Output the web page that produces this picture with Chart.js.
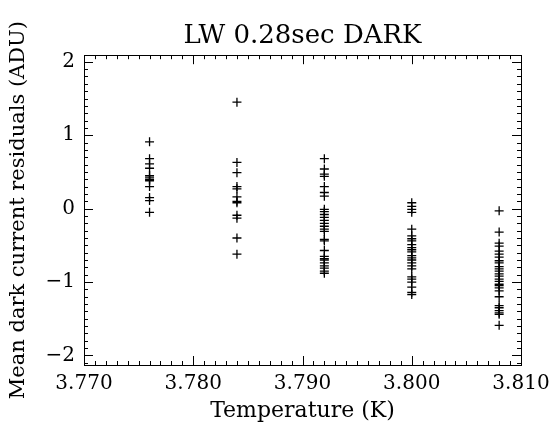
<!DOCTYPE html>
<html>
<head>
<meta charset="utf-8">
<script src="https://cdn.jsdelivr.net/npm/chart.js@4.4.0/dist/chart.umd.min.js"></script>
<style>
  html, body { margin: 0; padding: 0; background: #fff; }
  #wrap { width: 552px; height: 425px; }
</style>
</head>
<body>
<div id="wrap"><canvas id="dark-chart"></canvas></div>
<script>
/*=======================================
 data
========================================*/
var temps = [3.776, 3.784, 3.792, 3.800, 3.808];

var resid3776 = [0.91, 0.68, 0.61, 0.55, 0.45, 0.43, 0.40, 0.38, 0.30, 0.15, 0.11, -0.05];
var resid3784 = [1.45, 0.63, 0.49, 0.30, 0.27, 0.16, 0.10, 0.08, -0.09, -0.13, -0.40, -0.62];
var resid3792 = [0.68, 0.54, 0.47, 0.44, 0.30, 0.22, 0.17, -0.01, -0.04, -0.08, -0.12, -0.16,
                 -0.20, -0.24, -0.28, -0.31, -0.42, -0.44, -0.57, -0.65, -0.68, -0.70, -0.74,
                 -0.78, -0.81, -0.85, -0.88];
var resid3800 = [0.08, 0.03, -0.01, -0.05, -0.28, -0.37, -0.41, -0.44, -0.49, -0.53, -0.56, -0.59,
                 -0.64, -0.67, -0.70, -0.74, -0.78, -0.82, -0.93, -0.96, -1.00, -1.07, -1.14, -1.17];
var resid3808 = [-0.03, -0.32, -0.47, -0.51, -0.58, -0.62, -0.66, -0.71, -0.74, -0.79, -0.82, -0.85,
                 -0.89, -0.92, -0.96, -0.99, -1.03, -1.05, -1.08, -1.12, -1.20, -1.32, -1.35,
                 -1.39, -1.42, -1.44, -1.59];

var xTicks = [3.770, 3.780, 3.790, 3.800, 3.810];
var yTicks = [-2, -1, 0, 1, 2];

// one flat list of points, each group sits at its own temperature
var groups = [resid3776, resid3784, resid3792, resid3800, resid3808];
var points = [];
groups.forEach(function (g, i) {
   g.forEach(function (v) { points.push({ x: temps[i], y: v }); });
});

var serif = "'DejaVu Serif', serif";

/*=======================================
 IDL style inward ticks on all four sides
========================================*/
const idlTicks = {
   id: 'idlTicks',
   afterDraw(chart) {
      const c = chart.ctx;
      const a = chart.chartArea;
      const xs = chart.scales.x;
      const ys = chart.scales.y;
      c.save();
      c.strokeStyle = '#000';
      c.lineWidth = 1;
      c.beginPath();
      // x: minor every 0.001, major every 0.01
      for (let i = 0; i <= 40; i++) {
         const px = Math.round(xs.getPixelForValue(3.770 + i * 0.001)) + 0.5;
         const len = (i % 10 === 0) ? 9 : 4;
         c.moveTo(px, a.bottom); c.lineTo(px, a.bottom - len);
         c.moveTo(px, a.top); c.lineTo(px, a.top + len);
      }
      // y: minor every 0.1, major every 1
      for (let j = -21; j <= 20; j++) {
         const v = j / 10;
         if (v < ys.min || v > ys.max) continue;
         const py = Math.round(ys.getPixelForValue(v)) + 0.5;
         const len = (j % 10 === 0) ? 9 : 4;
         c.moveTo(a.left, py); c.lineTo(a.left + len, py);
         c.moveTo(a.right, py); c.lineTo(a.right - len, py);
      }
      c.stroke();
      c.strokeRect(Math.round(a.left) + 0.5, Math.round(a.top) + 0.5,
                   Math.round(a.right - a.left), Math.round(a.bottom - a.top));
      c.restore();
   }
};

var ctx = document.getElementById('dark-chart');

var darkChart = new Chart(ctx, {
   type: 'scatter',
   data: {
      datasets: [{
         data: points,
         pointStyle: 'cross',
         pointRadius: 4.5,
         pointBorderWidth: 1.3,
         borderColor: '#000',
         backgroundColor: '#000'
      }]
   },
   options: {
      responsive: true,
      maintainAspectRatio: false,
      animation: false,
      events: [],
      layout: { padding: { left: 0, right: 31, top: 0, bottom: 0 } },
      plugins: {
         legend: { display: false },
         tooltip: { enabled: false },
         title: {
            display: true,
            fullSize: false,   // centre over the plot box, not the whole canvas
            text: 'LW 0.28sec DARK',
            color: '#000',
            font: { family: serif, size: 26, weight: 'normal' },
            padding: { top: 21, bottom: 3 }
         }
      },
      scales: {
         x: {
            type: 'linear',
            min: 3.770,
            max: 3.810,
            afterBuildTicks: s => { s.ticks = xTicks.map(v => ({ value: v })); },
            afterFit: s => { s.height = 60; s.paddingLeft = 0; s.paddingRight = 0; },
            grid: { display: false, drawTicks: false },
            border: { display: false },
            ticks: {
               color: '#000',
               padding: 7,
               maxRotation: 0,
               font: { family: serif, size: 20 },
               callback: v => v.toFixed(3)
            },
            title: {
               display: true,
               text: 'Temperature (K)',
               color: '#000',
               font: { family: serif, size: 22 },
               padding: { top: 0, bottom: 1 }
            }
         },
         y: {
            type: 'linear',
            min: -2.13,
            max: 2.09,
            afterBuildTicks: s => { s.ticks = yTicks.map(v => ({ value: v })); },
            afterFit: s => { s.width = 84; },
            grid: { display: false, drawTicks: false },
            border: { display: false },
            ticks: {
               color: '#000',
               padding: 9,
               font: { family: serif, size: 20 },
               callback: v => (v < 0 ? '\u2212' + Math.abs(v) : String(v))
            },
            title: {
               display: true,
               text: 'Mean dark current residuals (ADU)',
               color: '#000',
               font: { family: serif, size: 21 },
               padding: { top: 6, bottom: 0 }
            }
         }
      }
   },
   plugins: [idlTicks]
});
</script>
</body>
</html>
